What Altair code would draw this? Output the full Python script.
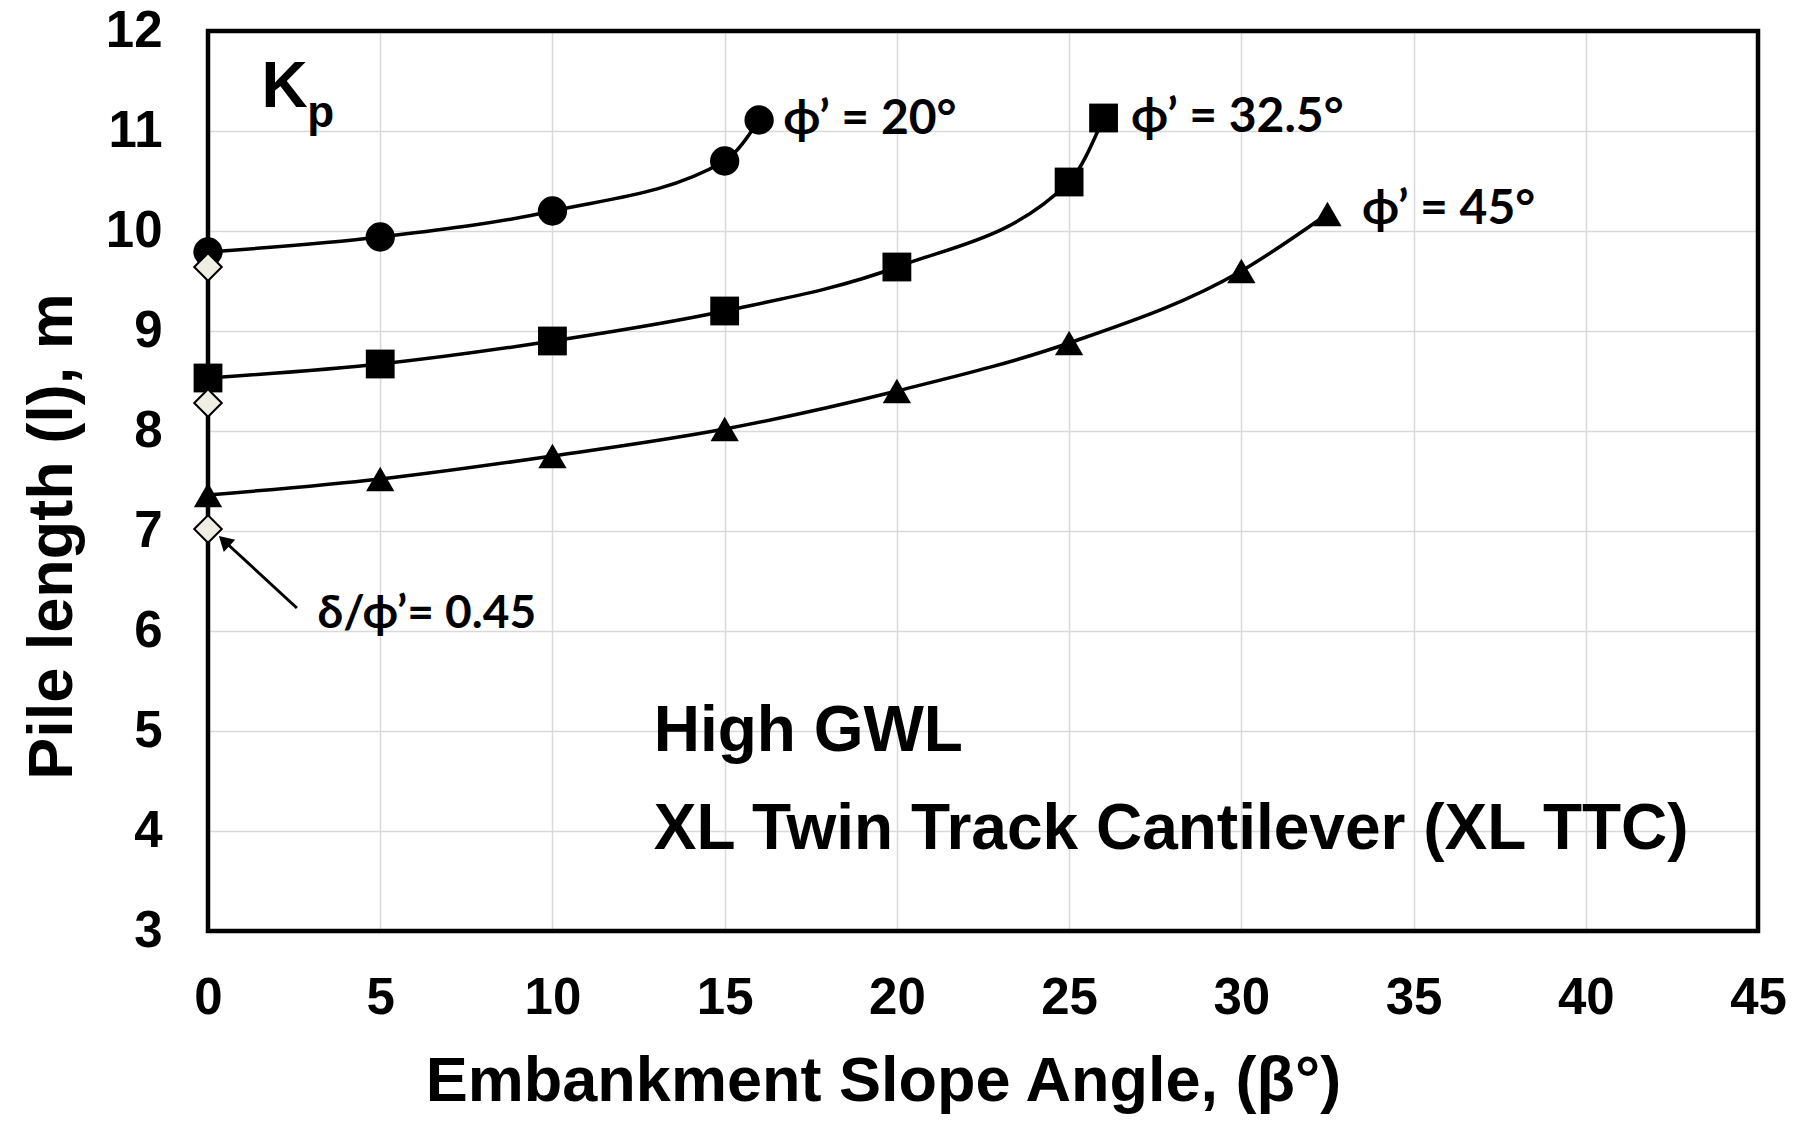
import altair as alt
import pandas as pd

# ---- data ----
beta_20 = [0, 5, 10, 15, 16]
len_20 = [9.79, 9.94, 10.20, 10.70, 11.11]

beta_325 = [0, 5, 10, 15, 20, 25, 26]
len_325 = [8.53, 8.67, 8.90, 9.20, 9.64, 10.49, 11.13]

beta_45 = [0, 5, 10, 15, 20, 25, 30, 32.5]
len_45 = [7.36, 7.52, 7.75, 8.02, 8.40, 8.88, 9.60, 10.17]

delta_beta = [0, 0, 0]
delta_len = [9.64, 8.28, 7.02]

x_ticks = [0, 5, 10, 15, 20, 25, 30, 35, 40, 45]
y_ticks = [3, 4, 5, 6, 7, 8, 9, 10, 11, 12]

series_names = ["ϕ’ = 20°", "ϕ’ = 32.5°", "ϕ’ = 45°"]
series_shapes = ["circle", "square", "triangle-up"]

# label positions (data coords)
lab_x = [16.7, 26.8, 33.5]
lab_y = [11.11, 11.13, 10.21]

rows = []
for name, xs_, ys_ in zip(series_names, [beta_20, beta_325, beta_45], [len_20, len_325, len_45]):
    for a, b in zip(xs_, ys_):
        rows.append({"series": name, "beta": a, "len": b})
df = pd.DataFrame(rows)
df_delta = pd.DataFrame({"beta": delta_beta, "len": delta_len})
df_lab = pd.DataFrame({"beta": lab_x, "len": lab_y, "text": series_names})

ARIAL = "Liberation Sans"
CAL = "Lato"

xs = alt.Scale(domain=[0, 45], nice=False, zero=False)
ys = alt.Scale(domain=[3, 12], nice=False, zero=False)

X = alt.X("beta:Q", scale=xs, axis=alt.Axis(
    title="Embankment Slope Angle, (β°)", values=x_ticks, format="d",
    labelFontSize=51, labelFont=ARIAL, labelFontWeight="bold", labelColor="black",
    labelPadding=42, ticks=False, domain=False, gridColor="#D9D9D9", gridWidth=1.5,
    titleFont=ARIAL, titleFontSize=63, titleFontWeight="bold", titleColor="black",
    titleX=675, titleY=150, titleBaseline="middle", labelFlush=False))
Y = alt.Y("len:Q", scale=ys, axis=alt.Axis(
    title="Pile length (l), m", values=y_ticks, format="d",
    labelFontSize=51, labelFont=ARIAL, labelFontWeight="bold", labelColor="black",
    labelPadding=46, ticks=False, domain=False, gridColor="#D9D9D9", gridWidth=1.5,
    titleFont=ARIAL, titleFontSize=63, titleFontWeight="bold", titleColor="black",
    titleX=-156, titleY=505, titleAngle=-90, titleBaseline="middle", labelFlush=False))

base = alt.Chart(df)

lines = base.mark_line(interpolate="monotone", color="black", strokeWidth=3.5).encode(
    x=X, y=Y, detail="series:N")

pts = base.mark_point(filled=True, color="black", opacity=1).encode(
    x="beta:Q", y="len:Q",
    shape=alt.Shape("series:N", scale=alt.Scale(domain=series_names, range=series_shapes), legend=None),
    size=alt.Size("series:N", scale=alt.Scale(domain=series_names, range=[860, 800, 740]), legend=None))

diam = alt.Chart(df_delta).mark_point(shape="diamond", filled=True, fill="#EEEEE4",
                                      stroke="black", strokeWidth=2, size=760, opacity=1).encode(
    x="beta:Q", y="len:Q")

labs = alt.Chart(df_lab).mark_text(align="left", baseline="middle", font=CAL, fontWeight="bold",
                                   fontSize=48, color="black").encode(
    x="beta:Q", y="len:Q", text="text:N")

# annotation texts
ann_x = [12.94, 12.94]
ann_y = [4.99, 4.01]
ann_t = ["High GWL", "XL Twin Track Cantilever (XL TTC)"]
ann1 = alt.Chart(pd.DataFrame({"beta": ann_x, "len": ann_y, "text": ann_t})).mark_text(
    align="left", baseline="middle", font=ARIAL, fontWeight="bold", fontSize=64, color="black").encode(
    x="beta:Q", y="len:Q", text="text:N")

dl_x = [3.18]
dl_y = [6.17]
dl_t = ["δ/ϕ’= 0.45"]
ann2 = alt.Chart(pd.DataFrame({"beta": dl_x, "len": dl_y, "text": dl_t})).mark_text(
    align="left", baseline="middle", font=CAL, fontWeight="bold", fontSize=46, color="black").encode(
    x="beta:Q", y="len:Q", text="text:N")

# Kp label
kp_x = [1.55]
kp_y = [11.43]
sub_x = [2.88]
sub_y = [11.17]
kp = alt.Chart(pd.DataFrame({"beta": kp_x, "len": kp_y, "t": ["K"]})).mark_text(
    align="left", baseline="middle", font=ARIAL, fontWeight="bold", fontSize=64, color="black").encode(
    x="beta:Q", y="len:Q", text="t:N")
kps = alt.Chart(pd.DataFrame({"beta": sub_x, "len": sub_y, "t": ["p"]})).mark_text(
    align="left", baseline="middle", font=ARIAL, fontWeight="bold", fontSize=44, color="black").encode(
    x="beta:Q", y="len:Q", text="t:N")

# arrow
arrow_x = [2.58, 0.47]
arrow_y = [6.23, 6.90]
arr = alt.Chart(pd.DataFrame({"beta": arrow_x, "len": arrow_y})).mark_line(
    color="black", strokeWidth=3).encode(x="beta:Q", y="len:Q")
head = alt.Chart(pd.DataFrame({"beta": [arrow_x[1]], "len": [arrow_y[1]]})).mark_point(
    shape="triangle-up", filled=True, color="black", size=280, angle=313, opacity=1).encode(
    x="beta:Q", y="len:Q")

# plot frame drawn above gridlines
frame = alt.Chart(pd.DataFrame({"k": [0]})).mark_rect(
    fill=None, fillOpacity=0, stroke="black", strokeWidth=4.5).encode(
    x=alt.value(0), x2=alt.value(1550), y=alt.value(0), y2=alt.value(900))

chart = alt.layer(lines, arr, head, frame, pts, diam, labs, ann1, ann2, kp, kps).properties(
    width=1550, height=900,
    autosize=alt.AutoSizeParams(type="none"),
    padding={"left": 208, "top": 31, "right": 40, "bottom": 197},
    background="white",
).configure_view(stroke=None)

chart.save("out.html", embed_options={"renderer": "svg", "actions": False})
